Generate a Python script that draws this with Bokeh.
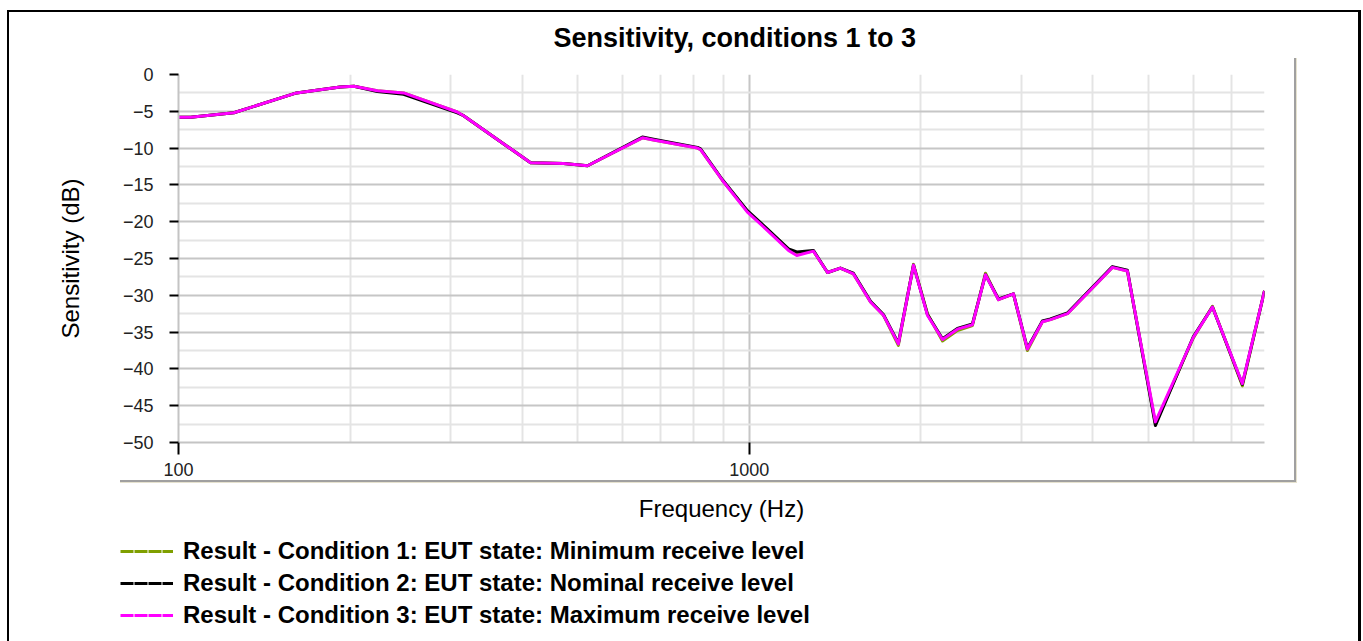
from bokeh.plotting import figure
from bokeh.models import (FixedTicker, BasicTickFormatter, Legend, LegendItem, Range1d)
from bokeh.embed import file_html
from bokeh.resources import INLINE

# ---------------- data ----------------
freq_hz = [100, 105, 125, 161, 192, 203, 223, 248, 308, 316, 414, 473, 521, 650, 680,
           812, 822, 898, 993, 1077, 1172, 1212, 1296, 1372, 1445, 1523, 1632, 1719,
           1826, 1941, 2053, 2182, 2317, 2462, 2595, 2735, 2905, 3073, 3265, 3373,
           3612, 4331, 4601, 5151, 6004, 6484, 7316, 8000]

cond3_db = [-5.8, -5.8, -5.2, -2.5, -1.7, -1.6, -2.2, -2.5, -5.1, -5.6, -12.0, -12.1,
            -12.4, -8.6, -8.9, -10.0, -10.2, -14.4, -18.7, -21.2, -23.9, -24.6, -24.0,
            -26.9, -26.3, -27.1, -30.9, -32.7, -36.6, -25.9, -32.7, -36.0, -34.6, -34.0,
            -27.2, -30.6, -29.8, -37.3, -33.6, -33.3, -32.5, -26.2, -26.7, -47.2, -35.7,
            -31.6, -42.0, -29.4]

cond2_db = [-5.8, -5.8, -5.2, -2.5, -1.7, -1.6, -2.3, -2.7, -5.2, -5.6, -12.0, -12.1,
            -12.4, -8.5, -8.8, -9.9, -10.1, -14.3, -18.5, -21.0, -23.7, -24.1, -23.9,
            -26.9, -26.3, -27.0, -30.8, -32.6, -36.5, -25.9, -32.6, -35.9, -34.5, -33.9,
            -27.2, -30.5, -29.8, -37.2, -33.5, -33.2, -32.4, -26.1, -26.6, -47.7, -35.6,
            -31.6, -42.1, -29.4]

cond1_db = [-5.8, -5.8, -5.2, -2.5, -1.7, -1.6, -2.2, -2.5, -5.1, -5.6, -12.0, -12.1,
            -12.4, -8.6, -8.9, -10.0, -10.2, -14.4, -18.6, -21.1, -23.8, -24.4, -24.0,
            -26.9, -26.3, -27.1, -30.9, -32.7, -36.8, -25.8, -32.5, -36.2, -34.8, -34.1,
            -27.0, -30.6, -29.8, -37.5, -33.6, -33.3, -32.5, -26.2, -26.7, -47.4, -35.8,
            -31.5, -42.3, -29.4]

x_major_ticks = [100, 1000]
x_minor_ticks = [200, 300, 400, 500, 600, 700, 800, 900,
                 2000, 3000, 4000, 5000, 6000, 7000, 8000]
y_major_ticks = [0, -5, -10, -15, -20, -25, -30, -35, -40, -45, -50]
y_minor_ticks = [-2.5, -7.5, -12.5, -17.5, -22.5, -27.5, -32.5, -37.5, -42.5, -47.5]

series_labels = ["Result - Condition 1: EUT state: Minimum receive level",
                 "Result - Condition 2: EUT state: Nominal receive level",
                 "Result - Condition 3: EUT state: Maximum receive level"]
series_colors = ["#7f9f00", "#000000", "#ff00ff"]

title_text = "Sensitivity, conditions 1 to 3"
x_label = "Frequency (Hz)"
y_label = "Sensitivity (dB)"

# ---------------- chart figure ----------------
FONT = "Liberation Sans"
W = 1363
H_CHART, H_LEG = 536, 105

p = figure(width=W, height=H_CHART, x_axis_type="log",
           x_range=Range1d(100, 8000), y_range=Range1d(-50, 0),
           output_backend="svg", toolbar_location=None,
           min_border_left=178, min_border_right=99,
           min_border_top=74, min_border_bottom=H_CHART - 442)
p.outline_line_color = None
p.background_fill_color = "white"
p.border_fill_color = None

# title
p.title.text = title_text
p.title.align = "left"
p.title.offset = 375
p.title.vertical_align = "middle"
p.title.text_font = FONT
p.title.text_font_size = "27px"
p.title.text_font_style = "bold"
p.title.text_color = "black"
p.title.standoff = 41

# grids
for g in (p.xgrid, p.ygrid):
    g.grid_line_color = "#c6c6c6"
    g.grid_line_width = 2
    g.minor_grid_line_color = "#e4e4e4"
    g.minor_grid_line_width = 2

# axes
p.xaxis.ticker = FixedTicker(ticks=x_major_ticks, minor_ticks=x_minor_ticks)
p.yaxis.ticker = FixedTicker(ticks=y_major_ticks, minor_ticks=y_minor_ticks)
p.xaxis.formatter = BasicTickFormatter(use_scientific=False)
p.yaxis.formatter = BasicTickFormatter(use_scientific=False)

for ax in (p.xaxis, p.yaxis):
    ax.axis_line_color = "#c4c4c4"
    ax.axis_line_width = 2
    ax.major_tick_line_color = "black"
    ax.major_tick_line_width = 2
    ax.major_tick_in = 0
    ax.minor_tick_line_color = None
    ax.major_label_text_font = FONT
    ax.major_label_text_font_size = "18px"
    ax.major_label_text_color = "#222222"
    ax.axis_label_text_font = FONT
    ax.axis_label_text_font_size = "24px"
    ax.axis_label_text_font_style = "normal"
    ax.axis_label_text_color = "black"

p.yaxis.major_tick_out = 9
p.yaxis.major_label_standoff = 16
p.yaxis.axis_label = y_label
p.yaxis.axis_label_standoff = 36

p.xaxis.major_tick_out = 12
p.xaxis.major_label_standoff = 8
p.xaxis.axis_label = x_label
p.xaxis.axis_label_standoff = 16

# series
all_series = [cond1_db, cond2_db, cond3_db]
for ys, col in zip(all_series, series_colors):
    p.line(freq_hz, ys, line_color=col, line_width=3, line_join="round")

# outer black border (top part) + sunken gray edges of the chart area
p.styles = {
    "background-color": "white",
    "background-image": ", ".join(["linear-gradient(#000000, #000000)"] * 3 +
                                  ["linear-gradient(#a0a0a0, #a0a0a0)"] * 2 +
                                  ["linear-gradient(#e6e2cf, #e6e2cf)"] * 2),
    "background-size": "2px 600px, 1353px 2px, 3px 600px, 2px 424px, 1176px 2px, 1px 425px, 1177px 1px",
    "background-position": "7px 10px, 7px 10px, 1358px 10px, 1294px 58px, 120px 480px, 1296px 58px, 120px 482px",
    "background-repeat": "no-repeat",
}

# ---------------- legend strip (second root figure, no axes) ----------------
lf = figure(width=W, height=H_LEG, output_backend="svg", toolbar_location=None,
            x_axis_location=None, y_axis_location=None, min_border=0,
            x_range=Range1d(0, 1), y_range=Range1d(0, 1))
lf.xgrid.visible = False
lf.ygrid.visible = False
lf.outline_line_color = None
lf.background_fill_color = None
lf.border_fill_color = None
lf.styles = {
    "background-color": "white",
    "background-image": "linear-gradient(#000000, #000000), linear-gradient(#000000, #000000)",
    "background-size": "2px 200px, 3px 200px",
    "background-position": "7px 0px, 1358px 0px",
    "background-repeat": "no-repeat",
}

items = []
for lab, col in zip(series_labels, series_colors):
    # one off-range point: nothing is drawn, the renderer only styles the swatch
    r = lf.line([-10], [-10], line_color=col, line_width=3, line_dash="13 1")
    items.append(LegendItem(label=lab, renderers=[r]))

legend = Legend(items=items, location=(120, 12),
                glyph_width=53, glyph_height=24, label_height=24,
                label_standoff=10, spacing=4, padding=0, margin=0,
                border_line_color=None, background_fill_alpha=0,
                label_text_font=FONT, label_text_font_size="24px",
                label_text_font_style="bold", label_text_color="black")
lf.add_layout(legend)

open("out.html", "w").write(file_html([p, lf], INLINE))
